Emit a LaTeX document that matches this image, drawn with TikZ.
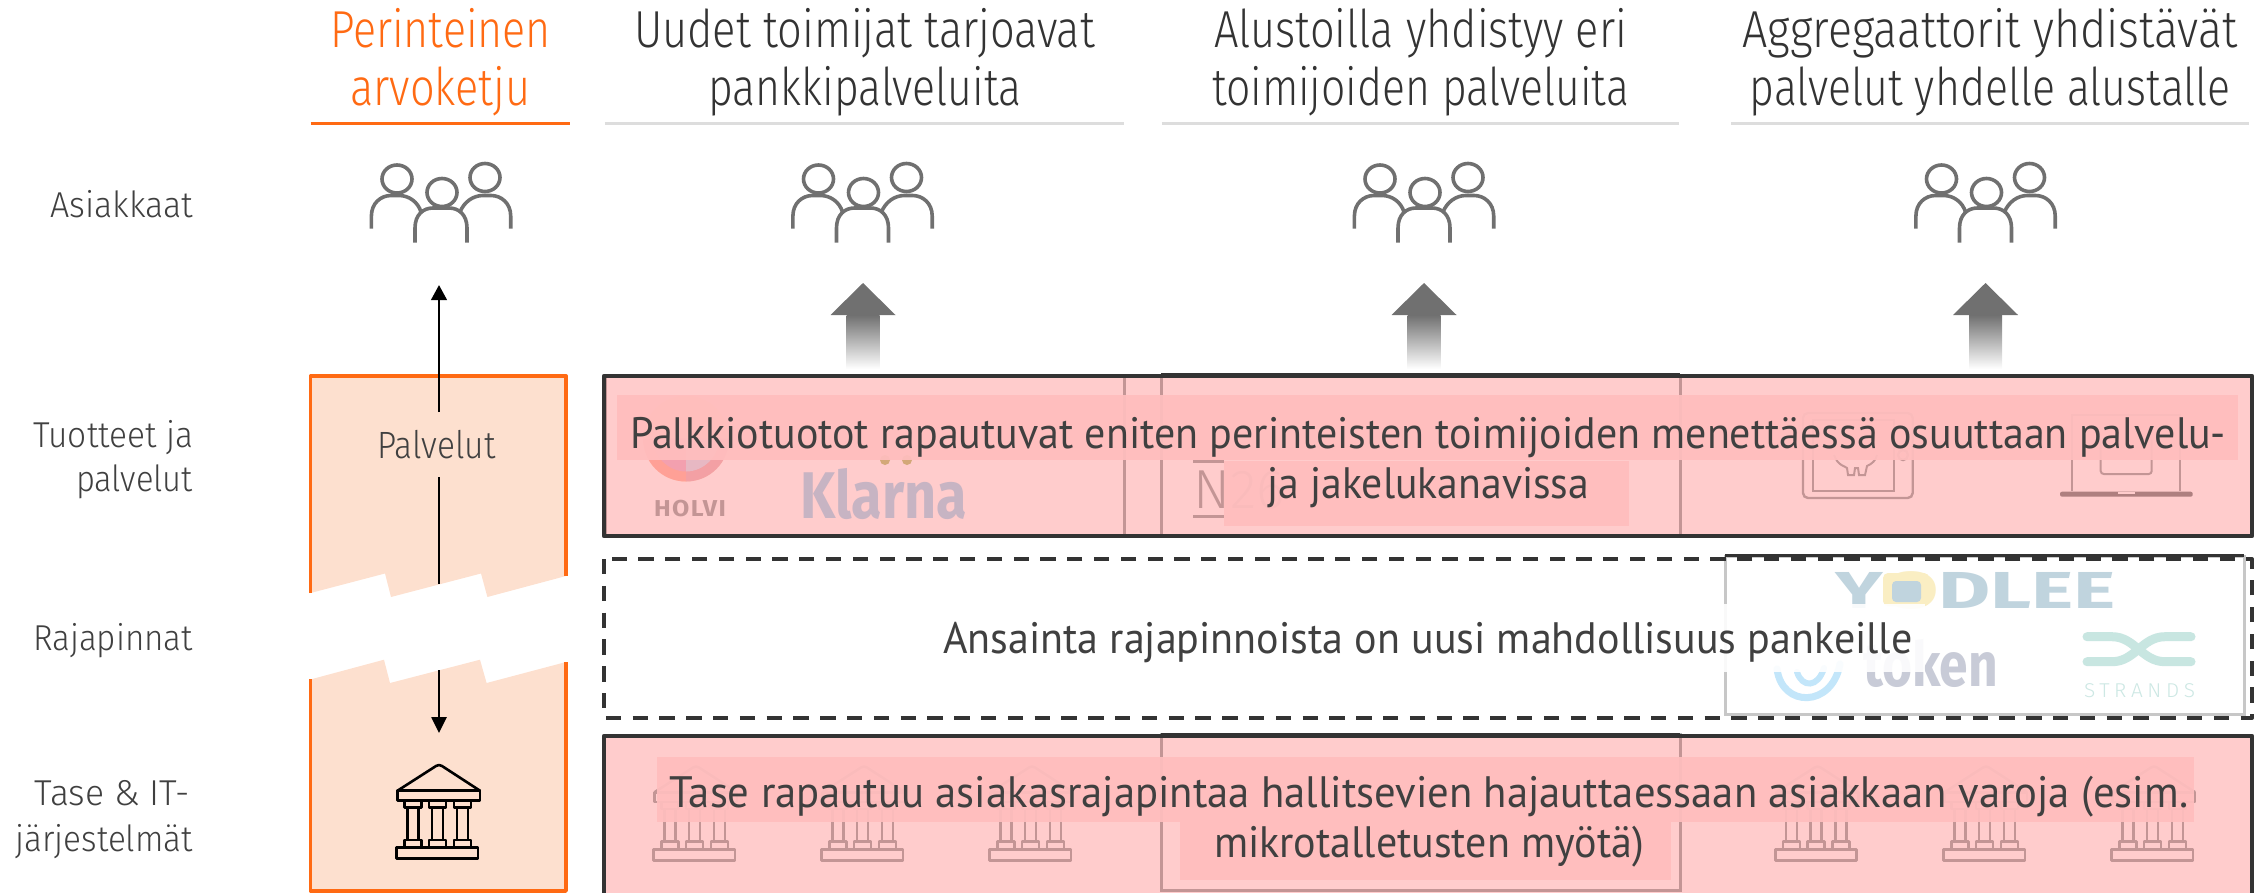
\documentclass[tikz,border=0pt]{standalone}
\usepackage{fontspec}
\usepackage{graphicx}
\usetikzlibrary{arrows.meta}
\setmainfont{PT Sans}
\newfontfamily\lightf{Fira Sans Light}
\newfontfamily\boldf{Fira Sans Bold}
\definecolor{ink}{RGB}{64,64,64}
\definecolor{inkd}{RGB}{51,51,51}
\definecolor{orng}{RGB}{255,106,19}
\definecolor{peach}{RGB}{253,224,207}
\definecolor{hair}{RGB}{221,221,221}
\definecolor{grayicon}{RGB}{112,112,112}
\definecolor{fadeline}{RGB}{181,187,187}
\definecolor{striprow}{RGB}{255,190,190}
\definecolor{klarnac}{RGB}{186,225,244}
\definecolor{yodb}{RGB}{192,212,222}
\definecolor{yody}{RGB}{250,238,195}
\definecolor{tokeng}{RGB}{200,203,215}
\definecolor{tokenb}{RGB}{195,230,250}
\definecolor{strandc}{RGB}{200,230,225}
\definecolor{strandt}{RGB}{205,232,228}
\definecolor{hoa}{RGB}{255,238,213}
\definecolor{hob}{RGB}{255,200,188}
\definecolor{hoc}{RGB}{226,231,244}
\definecolor{hod}{RGB}{240,200,205}
\definecolor{hoe}{RGB}{240,200,219}
\definecolor{klay}{RGB}{200,210,150}
\tikzset{
  lab/.style={anchor=base west,inner sep=0pt,outer sep=0pt},
  headtxt/.style={lab,font=\lightf\fontsize{52}{52}\selectfont,text=inkd},
  headorg/.style={lab,font=\lightf\fontsize{52}{52}\selectfont,text=orng},
  rowtxt/.style={lab,font=\lightf\fontsize{36}{36}\selectfont,text=ink},
  bartxt/.style={lab,font=\fontsize{44}{44}\selectfont,text=ink},
  persona/.style={draw=grayicon,line width=3.6pt,fill=none},
  thinarrow/.style={draw=black,line width=2.6pt},
  colframe/.style={draw=fadeline,line width=3pt},
  darkrule/.style={draw=inkd,line width=3pt},
  barframe/.style={draw=inkd,line width=4.2pt,line join=round},
  strip/.style={fill=striprow,fill opacity=.93,draw=none},
  bankline/.style={line width=2.6pt,line join=round,fill=none},
}
\newcommand{\fitw}[2]{\resizebox{#1pt}{\height}{#2}}
\newcommand{\peoplegroup}[1]{%
  \begin{scope}[shift={(#1,0)}]
    \draw[persona] (-44,179) ellipse [x radius=15,y radius=14];
    \draw[persona] (1,192.5) ellipse [x radius=15,y radius=14];
    \draw[persona] (44,177.5) ellipse [x radius=15,y radius=14];
    \draw[persona] (-69.6,228.7) -- (-69.6,216) .. controls (-69.6,203) and (-60,195.5) .. (-50,195.5) -- (-42,195.5) .. controls (-32,195.5) and (-23,202) .. (-20,212);
    \draw[persona] (69.7,228.7) -- (69.7,216) .. controls (69.7,203) and (60,195.5) .. (50,195.5) -- (42,195.5) .. controls (32,195.5) and (23,202) .. (19,212);
    \draw[persona] (-26,242.7) -- (-26,228) .. controls (-26,215) and (-18,208) .. (-8,208) -- (8,208) .. controls (18,208) and (26,215) .. (26,228) -- (26,242.7);
  \end{scope}}
\newcommand{\bigarrow}[1]{%
  \begin{scope}[shift={(#1,0)}]
    \fill[grayicon] (0,283) -- (32.5,315) -- (-32.5,315) -- cycle;
    \shade[top color=grayicon,bottom color=white,draw=none] (-16.5,315) rectangle (16.5,369);
  \end{scope}}
% \bankicon{dx}{dy}{colour}
\newcommand{\bankicon}[3]{%
  \begin{scope}[shift={(#1,#2)}]
    \draw[bankline,draw=#3] (397.5,790.7) -- (436,766) -- (439,765) -- (442,766) -- (480,790.7);
    \draw[bankline,draw=#3] (397.5,790.7) rectangle (480,800.6);
    \foreach \cx in {412.8,437.3,462.5}{
      \draw[bankline,draw=#3] (\cx-8.5,800.6) rectangle (\cx+8.5,807.6);
      \draw[bankline,draw=#3] (\cx-5.5,807.6) -- (\cx-5.5,840);
      \draw[bankline,draw=#3] (\cx+5.5,807.6) -- (\cx+5.5,840);
      \draw[bankline,draw=#3] (\cx-8.5,840) rectangle (\cx+8.5,847.7);
    }
    \draw[bankline,draw=#3] (396.7,847.7) rectangle (478,858.7);
  \end{scope}}
\begin{document}
\begin{tikzpicture}[x=1pt,y=-1pt]
\useasboundingbox (0,0) rectangle (2267,892);
\begin{scope}
\clip (0,0) rectangle (2267,892);
% headers
\node[headorg] (h1a) at (330,47.7) {\fitw{221}{Perinteinen}};
\node[headorg] (h1b) at (350.4,105) {\fitw{180}{arvoketju}};
\node[headtxt] (h2a) at (634,47.7) {\fitw{461}{Uudet toimijat tarjoavat}};
\node[headtxt] (h2b) at (708.5,105) {\fitw{313}{pankkipalveluita}};
\node[headtxt] (h3a) at (1214,47.7) {\fitw{413}{Alustoilla yhdistyy eri}};
\node[headtxt] (h3b) at (1212,105) {\fitw{417}{toimijoiden palveluita}};
\node[headtxt] (h4a) at (1742.4,47.7) {\fitw{495}{Aggregaattorit yhdistävät}};
\node[headtxt] (h4b) at (1749.6,105) {\fitw{481}{palvelut yhdelle alustalle}};
\draw[orng,line width=3pt] (310.7,123.5) -- (569.6,123.5);
\draw[hair,line width=3pt] (604.5,123.5) -- (1124,123.5);
\draw[hair,line width=3pt] (1161.6,123.5) -- (1679,123.5);
\draw[hair,line width=3pt] (1731,123.5) -- (2249,123.5);
% row labels
\node[rowtxt] (r1) at (50,217) {\fitw{143}{Asiakkaat}};
\node[rowtxt] (r2a) at (33.3,447.7) {\fitw{159.7}{Tuotteet ja}};
\node[rowtxt] (r2b) at (76,491.4) {\fitw{117}{palvelut}};
\node[rowtxt] (r3) at (33.3,650) {\fitw{159.7}{Rajapinnat}};
\node[rowtxt] (r4a) at (34.3,805) {\fitw{155.7}{Tase \& IT-}};
\node[rowtxt] (r4b) at (15.7,851) {\fitw{177.3}{järjestelmät}};
% people
\peoplegroup{441}\peoplegroup{862.5}\peoplegroup{1424}\peoplegroup{1985.5}
\bigarrow{863}\bigarrow{1424}\bigarrow{1985.5}
% traditional chain column
\fill[peach] (310.6,376) -- (566,376) -- (566,576) -- (487.4,597) -- (481,573.5) -- (391,597) -- (385,573.5) -- (310.6,593) -- cycle;
\fill[peach] (310.6,679.4) -- (384,659.7) -- (390,683) -- (480,659.7) -- (486.6,683) -- (566,662) -- (566,891) -- (310.6,891) -- cycle;
\draw[orng,line width=3.4pt,line join=round] (310.6,593) -- (310.6,376) -- (566,376) -- (566,576);
\draw[orng,line width=3.4pt,line join=round] (310.6,679.4) -- (310.6,891) -- (566,891) -- (566,662);
\node[lab,font=\lightf\fontsize{38}{38}\selectfont,text=ink] (pal) at (377.6,458) {\fitw{118}{Palvelut}};
\coordinate (upstart) at (439,412);
\coordinate (uptip) at (439,285);
\coordinate (midstart) at (439,477);
\coordinate (midend) at (439,584);
\coordinate (dnstart) at (439,670);
\coordinate (dntip) at (439,733);
\draw[thinarrow,-{Triangle[length=15pt,width=15.5pt]}] (upstart) -- (uptip);
\draw[thinarrow] (midstart) -- (midend);
\draw[thinarrow,-{Triangle[length=16pt,width=15pt]}] (dnstart) -- (dntip);
\bankicon{0}{0}{black}
% --- row 1: content under the red film
\fill[white] (605,375) rectangle (1124,535);
\fill[white] (1161,375) rectangle (1680,535);
\draw[colframe] (605,375) rectangle (1124,535);
\draw[colframe] (1161,375) rectangle (1680,535);
% Holvi logo
\fill[hoa] (686,438.5) circle [radius=43];
\fill[hob] (686,438.5) -- (643,438.5) .. controls (643,462) and (662,481.5) .. (686,481.5) -- cycle;
\fill[hod] (686,438.5) -- (686,481.5) .. controls (710,481.5) and (729,462) .. (729,438.5) -- cycle;
\fill[hoe] (686,438.5) -- (653,438.5) .. controls (653,456) and (668,471.5) .. (686,471.5) -- cycle;
\fill[hoc] (686,438.5) -- (686,471.5) .. controls (704,471.5) and (719,456) .. (719,438.5) -- cycle;
\node[lab,font=\boldf\fontsize{23}{23}\selectfont,text=fadeline] (holvi) at (654,516.7) {\fitw{72}{\addfontfeature{LetterSpace=6}HOLVI}};
\fill[klay] (885,460) circle [radius=5];
\fill[klay] (907,460) circle [radius=5];
\node[lab,font=\boldf\fontsize{66}{66}\selectfont,text=klarnac] (klarna) at (800,518.3) {\fitw{167}{Klarna}};
\node[lab,font=\lightf\fontsize{55}{55}\selectfont,text=fadeline] (n26) at (1193.4,508) {\fitw{92}{N26}};
\fill[fadeline] (1193.4,460) rectangle (1224,462.7);
\fill[fadeline] (1193.4,515) rectangle (1224,518);
% tablet
\draw[fadeline,line width=2.4pt,rounded corners=5pt] (1803,413) rectangle (1912.7,498);
\draw[fadeline,line width=2.4pt] (1813,420) rectangle (1894,491);
\draw[fadeline,line width=2.4pt] (1903,455) circle [radius=5];
\draw[fadeline,line width=2pt] (1834,455) .. controls (1838,466) and (1845,466) .. (1847,468) -- (1848,475) -- (1854,475) -- (1855,468) -- (1858,468) -- (1859,475) -- (1865,475) -- (1867,466) .. controls (1872,464) and (1876,460) .. (1877,455);
% laptop
\draw[fadeline,line width=2.4pt] (2071.7,491) -- (2071.7,415) -- (2180,415) -- (2180,491);
\draw[fadeline,line width=2pt,rounded corners=3pt] (2100.7,440) -- (2100.7,474) -- (2151.7,474) -- (2151.7,440);
\fill[fadeline!85!black,rounded corners=2pt] (2060,491.7) rectangle (2192.7,496.7);
\fill[white] (2118,491.7) rectangle (2135,494);
% --- row 3: content under the red film
\fill[white] (1161,734) rectangle (1680,890);
\draw[colframe] (1161,734) rectangle (1680,890);
\foreach \d in {257,425,593,1378.6,1547,1715}{\bankicon{\d}{1.5}{fadeline}}
% --- red films
\fill[red,fill opacity=.2] (604,376) rectangle (2252,536);
\fill[red,fill opacity=.2] (604,736) rectangle (2252,900);
\draw[barframe] (604,376) rectangle (2252,536);
\draw[barframe] (604,900) -- (604,736) -- (2252,736) -- (2252,900);
\draw[darkrule] (1161,374.5) -- (1680,374.5);
\draw[darkrule] (1161,734.5) -- (1680,734.5);
% strips + text row 1
\path[strip] (617,395) rectangle (2238,460);
\path[strip] (1224,461) rectangle (1629,526);
\node[bartxt] (t1a) at (630,448) {\fitw{1596}{Palkkiotuotot rapautuvat eniten perinteisten toimijoiden menettäessä osuuttaan palvelu-}};
\node[bartxt] (t1b) at (1267.6,498) {\fitw{321.5}{ja jakelukanavissa}};
% row 2
\fill[white] (1725,555) rectangle (2244,714.6);
\draw[draw=black!22,line width=3pt] (1725,556) rectangle (2244,714.6);
\draw[darkrule] (1725,555.5) -- (2244,555.5);
\draw[draw=inkd,line width=3.8pt,dash pattern=on 15.3pt off 11.5pt,line join=round] (604,559) rectangle (2252,718);
% Yodlee
\node[lab,font=\boldf\fontsize{52}{52}\selectfont,text=yodb] (yod) at (1835.4,608.3) {\fitw{280.6}{Y\textcolor{yody}{O}DLEE}};
\fill[yody,rounded corners=5pt] (1883,573) rectangle (1929,606);
\fill[yodb,rounded corners=4pt] (1892,581) rectangle (1921,602);
% token
\node[lab,font=\boldf\fontsize{62}{62}\selectfont,text=tokeng] (token) at (1863,686) {\fitw{135}{token}};
\draw[tokenb,line width=7pt,line cap=round] (1777,669) .. controls (1782,708) and (1832,708) .. (1840,664);
\draw[tokenb,line width=6pt,line cap=round] (1797,672) .. controls (1802,688) and (1818,688) .. (1824,668);
% Strands
\draw[strandc,line width=9pt,line cap=round] (2087,636.7) -- (2112,636.7) .. controls (2135,636.7) and (2142,661.7) .. (2165,661.7) -- (2191,661.7);
\draw[strandc,line width=9pt,line cap=round] (2191,636.7) -- (2165,636.7) .. controls (2142,636.7) and (2135,661.7) .. (2112,661.7) -- (2087,661.7);
\node[lab,font=\lightf\fontsize{20}{20}\selectfont,text=strandt] (strands) at (2084,697) {\fitw{111}{\addfontfeature{LetterSpace=22}STRANDS}};
\fill[white,fill opacity=.9] (930,604) rectangle (1925,672);
\node[bartxt] (t2) at (943,653.5) {\fitw{969.5}{Ansainta rajapinnoista on uusi mahdollisuus pankeille}};
% strips + text row 3
\path[strip] (657,757) rectangle (2194,821.5);
\path[strip] (1180,821.5) rectangle (1671,880);
\node[bartxt] (t3a) at (669.6,807) {\fitw{1518.4}{Tase rapautuu asiakasrajapintaa hallitsevien hajauttaessaan asiakkaan varoja (esim.}};
\node[bartxt] (t3b) at (1214,857) {\fitw{430}{mikrotalletusten myötä)}};
\end{scope}
\end{tikzpicture}
\end{document}
